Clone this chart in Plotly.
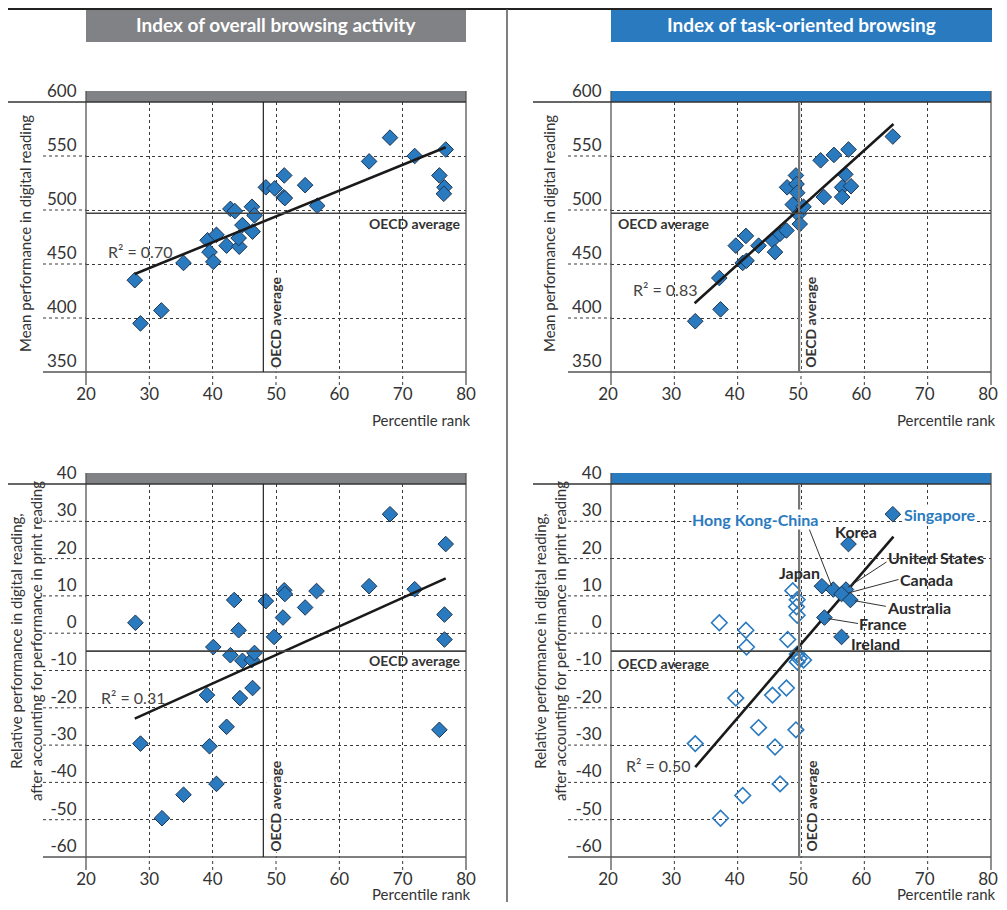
import plotly.graph_objects as go

# ---------------- data ----------------
x_ticks = [20, 30, 40, 50, 60, 70, 80]
top_y_ticks = [350, 400, 450, 500, 550, 600]
bot_y_ticks = [-60, -50, -40, -30, -20, -10, 0, 10, 20, 30, 40]

# Top-left: index of overall browsing activity vs digital reading
tl_x = [27.7, 28.6, 31.9, 35.4, 39.2, 39.5, 40.1, 40.6, 42.2, 42.8, 43.5, 44.2, 44.1, 44.7, 46.2, 46.3,
        46.6, 48.4, 49.8, 51.3, 51.2, 51.4, 54.6, 56.5, 64.7, 68.0, 71.9, 76.8, 75.8, 76.6, 76.5]
tl_y = [435, 395, 407, 451, 472, 461, 452, 477, 467, 501, 499, 466, 474, 486, 503, 480,
        495, 521, 520, 532, 512, 511, 523, 504, 545, 567, 550, 556, 532, 521, 515]
tl_fit_x = [27.7, 76.8]
tl_fit_y = [440.7, 558.1]

# Top-right: index of task-oriented browsing vs digital reading
tr_x = [33.3, 37.3, 37.1, 39.7, 40.8, 41.4, 41.3, 43.3, 45.5, 45.9, 46.7, 47.7, 47.8, 48.7, 49.2,
        49.3, 49.4, 49.6, 49.8, 50.4, 53.1, 53.6, 55.2, 57.5, 57.0, 56.5, 56.5, 57.9, 64.5]
tr_y = [397, 408, 437, 467, 451, 453, 476, 467, 472, 461, 478, 481, 521, 505, 532,
        524, 516, 496, 487, 503, 546, 512, 551, 556, 533, 521, 512, 522, 568]
tr_fit_x = [33.2, 64.6]
tr_fit_y = [413.6, 579.6]

# Bottom-left: overall browsing vs relative performance
bl_x = [27.8, 28.6, 32.0, 35.4, 39.1, 39.5, 40.1, 40.6, 42.2, 42.8, 43.4, 44.1, 44.3, 44.7, 46.2, 46.3,
        46.6, 48.4, 49.7, 51.3, 51.4, 51.1, 54.6, 56.4, 64.7, 68.0, 71.9, 76.8, 75.8, 76.6, 76.6]
bl_y = [2.8, -29.6, -49.6, -43.3, -16.6, -30.3, -3.7, -40.4, -25.1, -5.9, 8.9, 0.8, -17.4, -7.4, -7.2, -14.7,
        -5.3, 8.6, -1.0, 11.5, 10.5, 4.2, 6.9, 11.3, 12.6, 31.9, 11.8, 23.9, -25.9, 5.0, -1.7]
bl_fit_x = [27.7, 76.8]
bl_fit_y = [-22.9, 14.7]

# Bottom-right: task-oriented browsing vs relative performance
br_names = ["Singapore", "Korea", "Japan", "Hong Kong-China", "United States", "Canada",
            "Australia", "France", "Ireland"]
br_hx = [64.5, 57.5, 53.3, 55.1, 57.1, 56.4, 57.8, 53.7, 56.4]
br_hy = [31.9, 23.9, 12.6, 11.7, 11.7, 10.5, 8.9, 4.2, -1.0]
br_ox = [48.7, 49.4, 49.3, 49.4, 37.1, 41.3, 41.4, 47.9, 49.4, 49.7, 50.4, 49.4, 47.7, 39.7, 45.5,
         43.3, 49.2, 33.3, 45.9, 46.7, 40.8, 37.3]
br_oy = [11.4, 9.0, 7.1, 4.8, 2.8, 0.8, -3.7, -1.7, -5.6, -6.8, -7.2, -7.7, -14.7, -17.4, -16.6,
         -25.3, -25.9, -29.6, -30.5, -40.4, -43.5, -49.6]
br_fit_x = [33.3, 64.6]
br_fit_y = [-35.9, 25.9]

# OECD averages
oecd_x_overall = 48.0
oecd_x_task = 49.7
oecd_y_digital = 497
oecd_y_relative = -4.8

r2_labels = ["R² = 0.70", "R² = 0.83", "R² = 0.31", "R² = 0.50"]
r2_x = [28.5, 28.5, 27.4, 27.4]
r2_y = [462, 426, -17.2, -35.4]

# country label positions (data coords) and leader lines
lbl_text = ["Singapore", "Korea", "Japan", "Hong Kong-China", "United States", "Canada",
            "Australia", "France", "Ireland"]
lbl_x = [66.1, 58.7, 49.7, 42.7, 63.5, 65.5, 63.4, 59.0, 57.7]
lbl_y = [31.9, 27.4, 16.4, 30.6, 20.3, 14.5, 6.9, 2.6, -2.8]
lbl_anchor = ["left", "center", "center", "center", "left", "left", "left", "left", "left"]
lbl_blue = [True, False, False, True, False, False, False, False, False]
lead_x0 = [51.3, 63.5, 65.4, 63.4, 59.0]
lead_y0 = [27.9, 19.1, 14.4, 7.2, 2.6]
lead_x1 = [54.85, 57.4, 57.5, 58.5, 54.3]
lead_y1 = [12.6, 12.3, 10.8, 8.7, 3.9]

# ---------------- style ----------------
OFF = 8  # page body margin in which the figure sits
W, H = 1007 - 2 * OFF, 910 - 2 * OFF  # so the page does not overflow the 1007x910 window
FONT = "Lato, 'Noto Sans', sans-serif"
BLUE = "#2A7AC0"
GRAY_BAR = "#808285"
TXT = "#333333"
MK_LINE = "#1E3550"


def px2paper_x(p):
    return (p - OFF) / W


def px2paper_y(p):
    return 1 - (p - OFF) / H


panels = [
    dict(n="", xpx=(86, 466), ypx=(102, 372), yr=(350, 600), yt=top_y_ticks, band=GRAY_BAR,
         vx=oecd_x_overall, hy=oecd_y_digital, vcol="#222222", vw=1.2, hleft=False, hshift=-10, xs=0),
    dict(n="2", xpx=(611, 991), ypx=(102, 372), yr=(350, 600), yt=top_y_ticks, band=BLUE,
         vx=oecd_x_task, hy=oecd_y_digital, vcol="#777777", vw=2.2, hleft=True, hshift=-10, xs=-3),
    dict(n="3", xpx=(86, 466), ypx=(484, 857), yr=(-60, 40), yt=bot_y_ticks, band=GRAY_BAR,
         vx=oecd_x_overall, hy=oecd_y_relative, vcol="#222222", vw=1.2, hleft=False, hshift=-9, xs=0),
    dict(n="4", xpx=(611, 991), ypx=(484, 857), yr=(-60, 40), yt=bot_y_ticks, band=BLUE,
         vx=oecd_x_task, hy=oecd_y_relative, vcol="#777777", vw=2.2, hleft=True, hshift=-12, xs=-3),
]

fig = go.Figure()

marker_filled = dict(symbol="diamond", size=12, color=BLUE, line=dict(color=MK_LINE, width=1))
marker_open = dict(symbol="diamond-open", size=12, color=BLUE, line=dict(width=1.6))

series = [
    ("", tl_x, tl_y, tl_fit_x, tl_fit_y),
    ("2", tr_x, tr_y, tr_fit_x, tr_fit_y),
    ("3", bl_x, bl_y, bl_fit_x, bl_fit_y),
]
for n, xs, ys, fx, fy in series:
    fig.add_trace(go.Scatter(x=xs, y=ys, mode="markers", marker=marker_filled,
                             xaxis="x" + n, yaxis="y" + n))
    fig.add_trace(go.Scatter(x=fx, y=fy, mode="lines", line=dict(color="#1a1a1a", width=2.6),
                             xaxis="x" + n, yaxis="y" + n))

fig.add_trace(go.Scatter(x=br_ox, y=br_oy, mode="markers", marker=marker_open,
                         xaxis="x4", yaxis="y4"))
fig.add_trace(go.Scatter(x=br_fit_x, y=br_fit_y, mode="lines", line=dict(color="#1a1a1a", width=2.6),
                         xaxis="x4", yaxis="y4"))
fig.add_trace(go.Scatter(x=br_hx, y=br_hy, mode="markers", marker=marker_filled, text=br_names,
                         xaxis="x4", yaxis="y4"))

layout = dict(
    width=W, height=H, margin=dict(l=0, r=0, t=0, b=0, pad=0, autoexpand=False),
    paper_bgcolor="white", plot_bgcolor="white", showlegend=False,
    font=dict(family=FONT, color=TXT), hovermode=False,
)
shapes = []
annotations = []

for i, p in enumerate(panels):
    n = p["n"]
    xa, ya = "xaxis" + n, "yaxis" + n
    hpx = p["ypx"][1] - p["ypx"][0]
    wpx = p["xpx"][1] - p["xpx"][0]
    layout[xa] = dict(
        domain=[px2paper_x(p["xpx"][0]), px2paper_x(p["xpx"][1])], range=[20, 80],
        tickvals=x_ticks, ticktext=[str(t) for t in x_ticks], ticklabeloverflow="allow",
        ticklabelshift=p["xs"],
        showgrid=True, griddash="dot", gridcolor="#3a3a3a", gridwidth=1,
        ticks="outside", ticklen=7, tickcolor="rgba(0,0,0,0)", tickfont=dict(size=17, color=TXT),
        showline=False, zeroline=False, anchor="y" + n, fixedrange=True, automargin=False,
    )
    layout[ya] = dict(
        domain=[px2paper_y(p["ypx"][1]), px2paper_y(p["ypx"][0])], range=list(p["yr"]),
        tickvals=p["yt"], ticktext=[str(t) for t in p["yt"]], ticklabeloverflow="allow",
        showgrid=True, griddash="dot", gridcolor="#3a3a3a", gridwidth=1,
        ticks="outside", ticklen=5, tickcolor="rgba(0,0,0,0)", tickfont=dict(size=17, color=TXT),
        ticklabelshift=-11, showline=False, zeroline=False, anchor="x" + n, fixedrange=True,
        automargin=False,
    )
    xd, yd = "x" + n + " domain", "y" + n + " domain"
    band_h = 11 / hpx
    below = 13 / hpx
    ext = 43 / wpx
    # coloured band above plot
    shapes.append(dict(type="rect", xref=xd, yref=yd, x0=0, x1=1, y0=1, y1=1 + band_h,
                       fillcolor=p["band"], line=dict(width=0), layer="above"))
    # left axis and right border
    for xv in (0, 1):
        shapes.append(dict(type="line", xref=xd, yref=yd, x0=xv, x1=xv, y0=-below, y1=1 + band_h,
                           line=dict(color="#555555", width=1.3)))
    # dotted extensions below the x axis
    for t in x_ticks[1:-1]:
        xf = (t - 20) / 60
        shapes.append(dict(type="line", xref=xd, yref=yd, x0=xf, x1=xf, y0=-below, y1=0,
                           line=dict(color="#3a3a3a", width=1, dash="dot")))
    # dotted extensions to the left of the y axis
    y0r, y1r = p["yr"]
    for t in p["yt"][1:-1]:
        yf = (t - y0r) / (y1r - y0r)
        shapes.append(dict(type="line", xref=xd, yref=yd, x0=-ext, x1=0, y0=yf, y1=yf,
                           line=dict(color="#3a3a3a", width=1, dash="dot")))
    # solid top and bottom lines
    shapes.append(dict(type="line", xref=xd, yref=yd, x0=-78 / wpx, x1=1, y0=1, y1=1,
                       line=dict(color="#333333", width=1.3)))
    shapes.append(dict(type="line", xref=xd, yref=yd, x0=-ext, x1=1, y0=0, y1=0,
                       line=dict(color="#555555", width=1.3)))
    # OECD average lines
    shapes.append(dict(type="line", xref="x" + n, yref=yd, x0=p["vx"], x1=p["vx"], y0=0, y1=1,
                       line=dict(color=p["vcol"], width=p["vw"])))
    shapes.append(dict(type="line", xref=xd, yref="y" + n, x0=0, x1=1, y0=p["hy"], y1=p["hy"],
                       line=dict(color="#444444", width=1.6)))
    # OECD average labels
    if p["hleft"]:
        annotations.append(dict(text="<b>OECD average</b>", xref=xd, yref="y" + n, x=0.013, y=p["hy"],
                                xanchor="left", yanchor="middle", yshift=p["hshift"], showarrow=False,
                                font=dict(size=14, color=TXT)))
    else:
        annotations.append(dict(text="<b>OECD average</b>", xref=xd, yref="y" + n, x=0.992, y=p["hy"],
                                xanchor="right", yanchor="middle", yshift=p["hshift"], showarrow=False,
                                font=dict(size=14, color=TXT)))
    annotations.append(dict(text="<b>OECD average</b>", xref="x" + n, yref=yd, x=p["vx"], y=0.012,
                            xanchor="center", yanchor="bottom", xshift=12, textangle=-90,
                            showarrow=False, bgcolor="white", borderpad=0,
                            font=dict(size=14, color=TXT)))
    # R² label
    annotations.append(dict(text=r2_labels[i], xref="x" + n, yref="y" + n, x=r2_x[i], y=r2_y[i],
                            xanchor="center", yanchor="middle", showarrow=False,
                            font=dict(size=16, color="#444444")))
    # x axis title
    annotations.append(dict(text="Percentile rank", xref=xd, yref=yd, x=(wpx + 7) / wpx,
                            y=-(48 if hpx < 300 else 37) / hpx, xanchor="right", yanchor="middle",
                            showarrow=False, font=dict(size=15, color=TXT)))

# y axis titles
for xc in (25, 549):
    annotations.append(dict(text="Mean performance in digital reading", xref="paper", yref="paper",
                            x=px2paper_x(xc), y=px2paper_y(234), textangle=-90, showarrow=False,
                            xanchor="center", yanchor="middle", font=dict(size=15, color=TXT)))
    annotations.append(dict(text="Relative performance in digital reading,<br>after accounting for performance in print reading",
                            xref="paper", yref="paper", x=px2paper_x(xc + 1), y=px2paper_y(641),
                            textangle=-90, showarrow=False, xanchor="center", yanchor="middle",
                            font=dict(size=15, color=TXT)))

# country labels
for t, x, y, a, b in zip(lbl_text, lbl_x, lbl_y, lbl_anchor, lbl_blue):
    annotations.append(dict(text="<b>" + t + "</b>", xref="x4", yref="y4", x=x, y=y, xanchor=a,
                            yanchor="middle", showarrow=False,
                            bgcolor="white" if b else None, borderpad=0,
                            font=dict(size=16, color=BLUE if b else "#2a2a2a")))
for x0, y0, x1, y1 in zip(lead_x0, lead_y0, lead_x1, lead_y1):
    shapes.append(dict(type="line", xref="x4", yref="y4", x0=x0, y0=y0, x1=x1, y1=y1,
                       line=dict(color="#333333", width=1)))

# header bars
for (a, b), title, col in (((86, 466), "Index of overall browsing activity", GRAY_BAR),
                           ((611, 992), "Index of task-oriented browsing", BLUE)):
    shapes.append(dict(type="rect", xref="paper", yref="paper", x0=px2paper_x(a), x1=px2paper_x(b),
                       y0=px2paper_y(42), y1=px2paper_y(9), fillcolor=col, line=dict(width=0)))
    annotations.append(dict(text="<b>" + title + "</b>", xref="paper", yref="paper",
                            x=px2paper_x((a + b) / 2), y=px2paper_y(25), xanchor="center",
                            yanchor="middle", showarrow=False, font=dict(size=19, color="white")))

# top rule and separator
shapes.append(dict(type="line", xref="paper", yref="paper", x0=px2paper_x(8), x1=px2paper_x(992),
                   y0=px2paper_y(9), y1=px2paper_y(9), line=dict(color="#222222", width=2)))
shapes.append(dict(type="line", xref="paper", yref="paper", x0=px2paper_x(507), x1=px2paper_x(507),
                   y0=0, y1=px2paper_y(9), line=dict(color="#555555", width=1.5)))

layout["shapes"] = shapes
layout["annotations"] = annotations
fig.update_layout(**layout)
fig.write_html("out.html")
